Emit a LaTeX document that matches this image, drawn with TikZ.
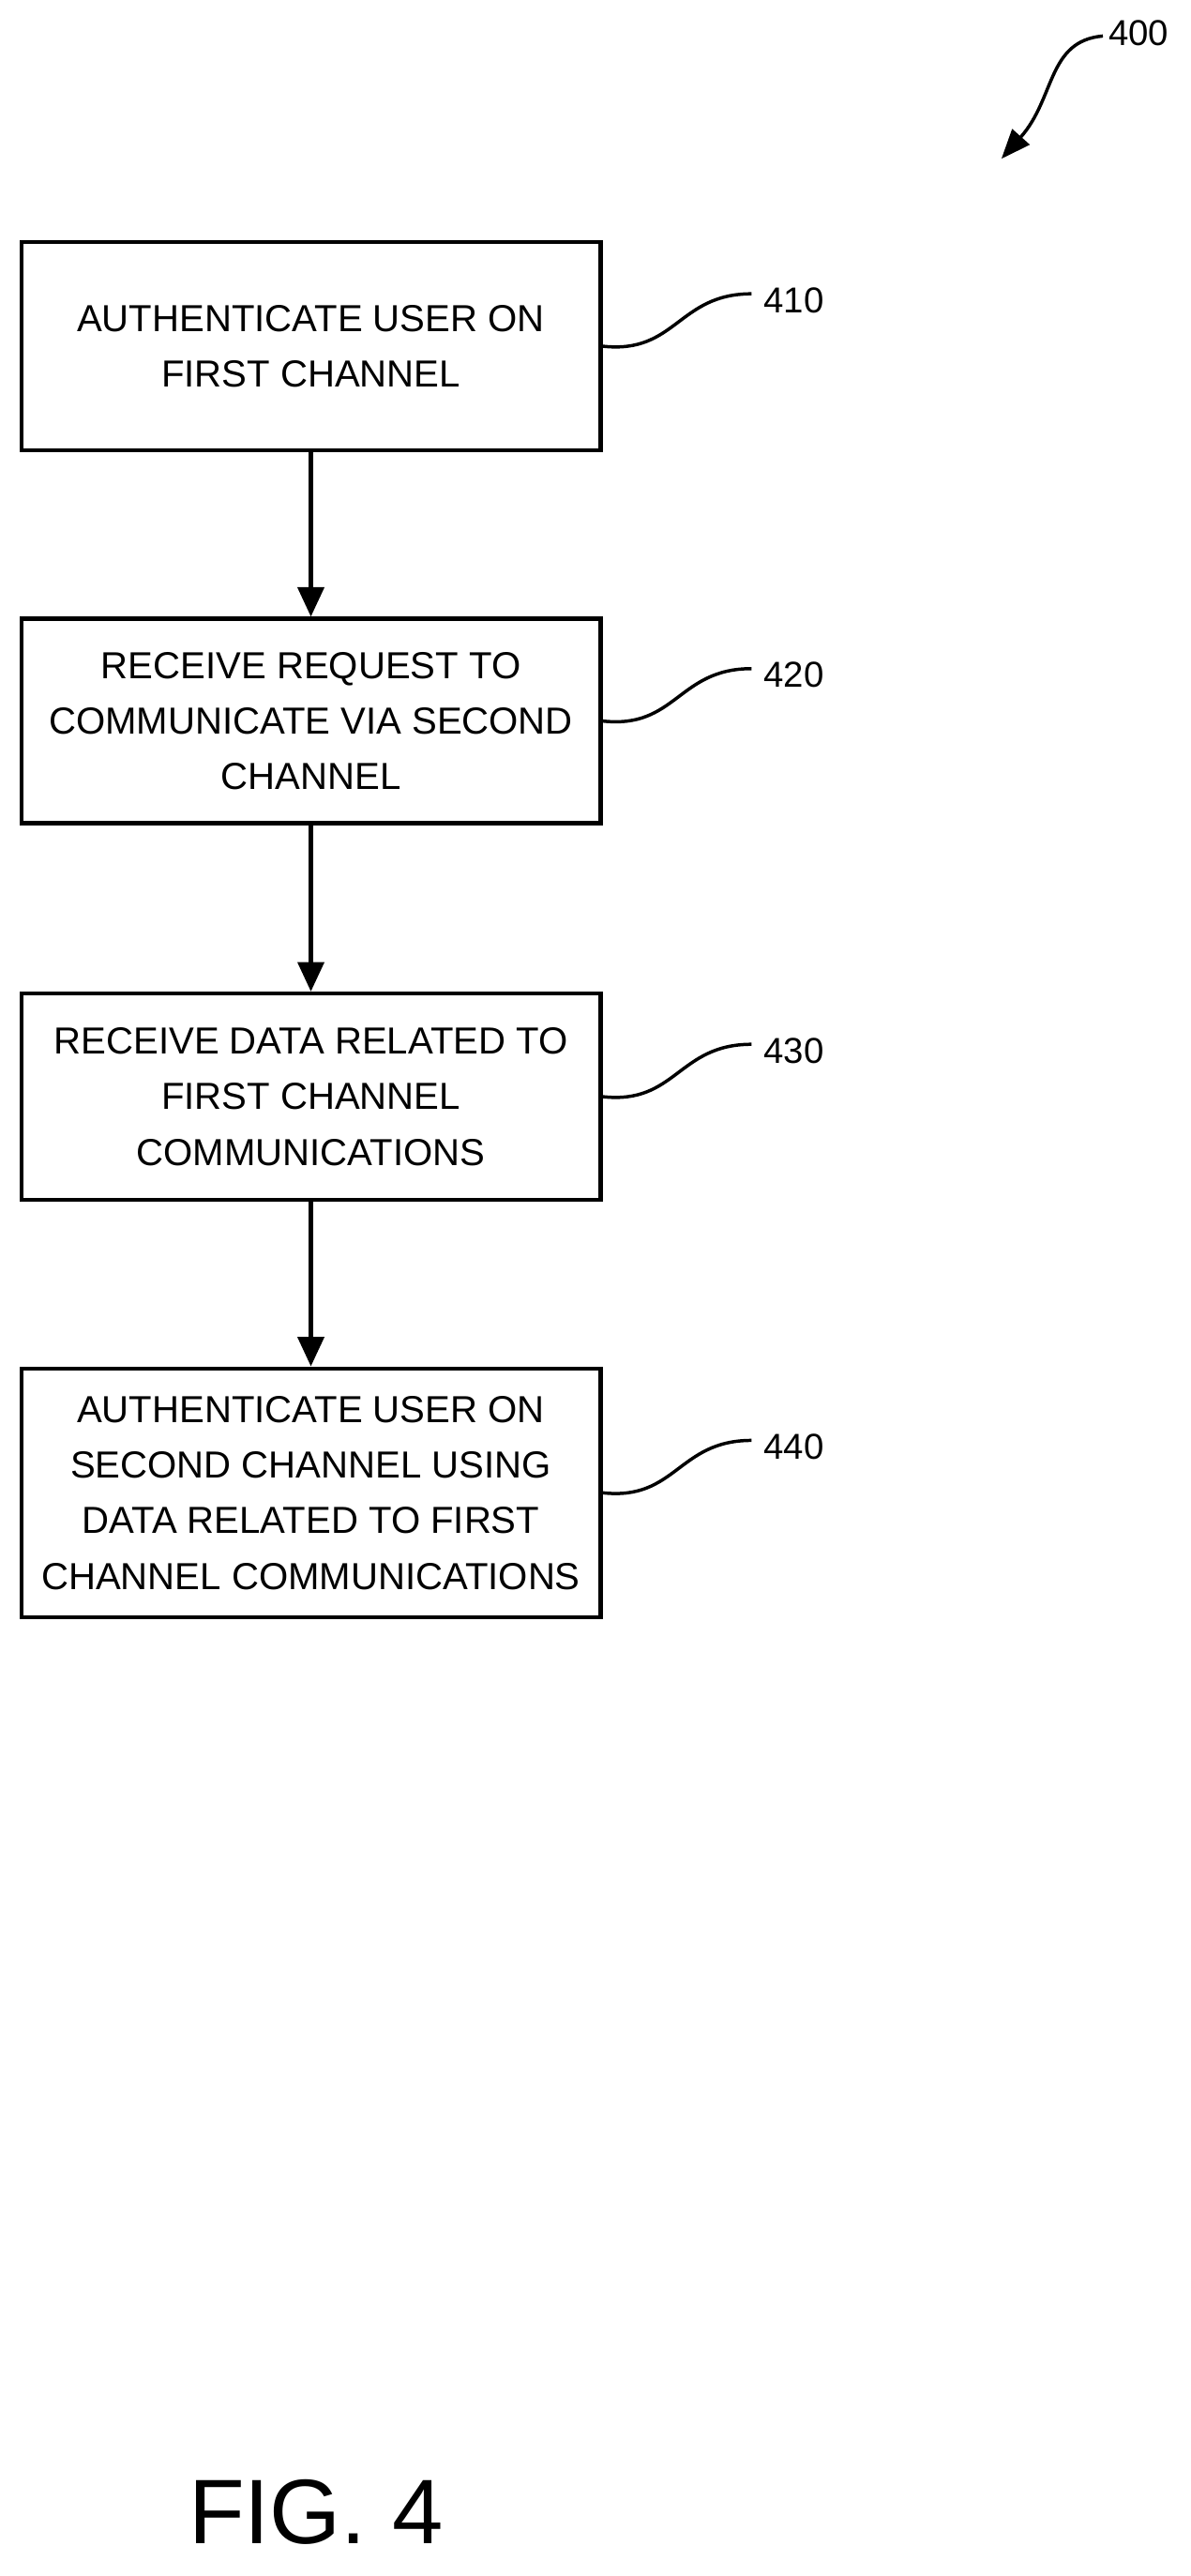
\documentclass[tikz,border=0pt]{standalone}
\usepackage{fontspec}
\setmainfont{Liberation Sans}
\usetikzlibrary{arrows.meta}
\begin{document}
\begin{tikzpicture}[x=1pt,y=-1pt,
  box/.style={draw,line width=2.5pt,minimum width=354pt,align=center,font=\fontsize{23}{34}\selectfont,inner sep=0pt},
  arr/.style={line width=2.5pt,-{Triangle[length=18pt,width=16pt]}},
  lead/.style={line width=2pt},
  lbl/.style={font=\fontsize{22}{26}\selectfont}]
\useasboundingbox (0,0) rectangle (727.3,1573.8);
\node[box,minimum height=127pt] (b1) at (190,211.5) {AUTHENTICATE USER ON\\FIRST CHANNEL};
\node[box,minimum height=125pt] (b2) at (190,440.5) {RECEIVE REQUEST TO\\COMMUNICATE VIA SECOND\\CHANNEL};
\node[box,minimum height=126pt] (b3) at (190,670) {RECEIVE DATA RELATED TO\\FIRST CHANNEL\\COMMUNICATIONS};
\node[box,minimum height=152pt] (b4) at (190,912) {AUTHENTICATE USER ON\\SECOND CHANNEL USING\\DATA RELATED TO FIRST\\CHANNEL COMMUNICATIONS};
\draw[arr] (b1) -- (b2);
\draw[arr] (b2) -- (b3);
\draw[arr] (b3) -- (b4);
\foreach \b/\n in {b1/410,b2/420,b3/430,b4/440}{
  \node[lbl,anchor=west] (l\n) at ([xshift=95pt,yshift=28pt]\b.east) {\n};
  \draw[lead] (\b.east) .. controls +(45,5) and +(-45,0) .. ([xshift=-4pt,yshift=4pt]l\n.west);
}
\node[lbl,anchor=west] (l400) at (674,20) {400};
\coordinate (t400) at (612,97);
\draw[line width=2pt,-{Triangle[length=18pt,width=14pt]}] ([yshift=-2pt]l400.west) .. controls (640,25) and (645,60) .. (t400);
\node[font=\fontsize{56}{60}\selectfont] (fig) at (193,1535) {FIG. 4};
\end{tikzpicture}
\end{document}
